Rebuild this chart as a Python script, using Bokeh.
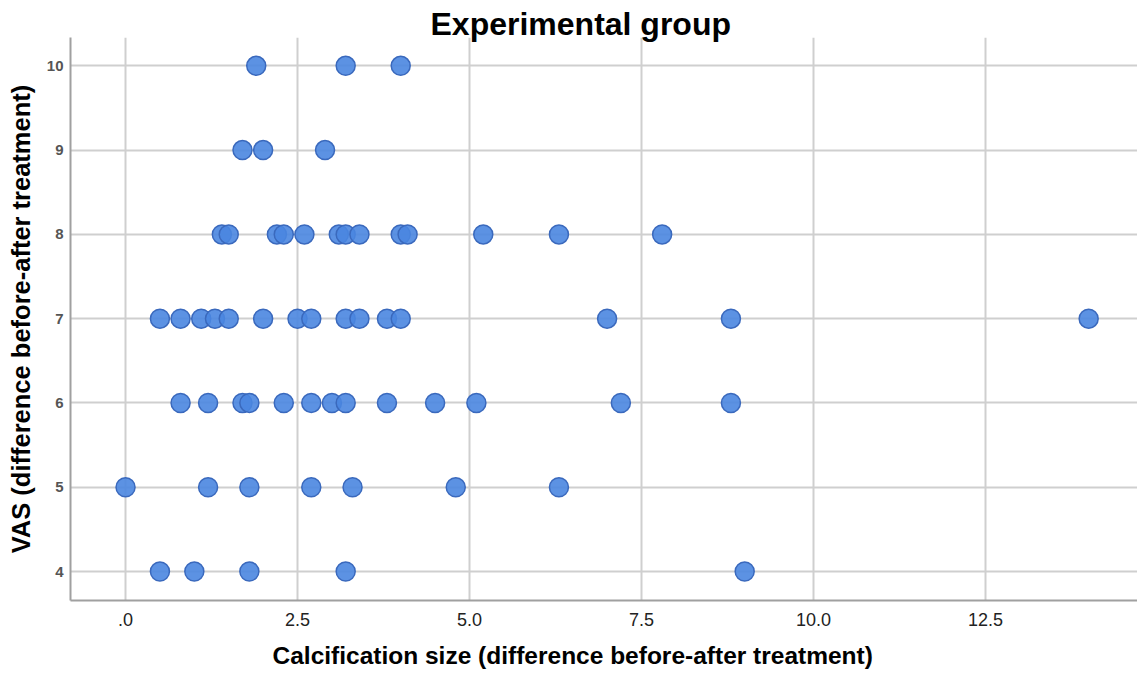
from bokeh.plotting import figure
from bokeh.models import FixedTicker, Title, ColumnDataSource
from bokeh.embed import file_html
from bokeh.resources import INLINE

# Calcification size change for each VAS change level
calc_vas_10 = [1.9, 3.2, 4.0]
calc_vas_9 = [1.7, 2.0, 2.9]
calc_vas_8 = [1.4, 1.5, 2.2, 2.3, 2.6, 3.1, 3.2, 3.4, 4.0, 4.1, 5.2, 6.3, 7.8]
calc_vas_7 = [0.5, 0.8, 1.1, 1.3, 1.5, 2.0, 2.5, 2.7, 3.2, 3.4, 3.8, 4.0, 7.0, 8.8, 14.0]
calc_vas_6 = [0.8, 1.2, 1.7, 1.8, 2.3, 2.7, 3.0, 3.2, 3.8, 4.5, 5.1, 7.2, 8.8]
calc_vas_5 = [0.0, 1.2, 1.8, 2.7, 3.3, 4.8, 6.3]
calc_vas_4 = [0.5, 1.0, 1.8, 3.2, 9.0]

vas_levels = [10, 9, 8, 7, 6, 5, 4]
calc_groups = [calc_vas_10, calc_vas_9, calc_vas_8, calc_vas_7,
               calc_vas_6, calc_vas_5, calc_vas_4]

x_ticks = [0, 2.5, 5.0, 7.5, 10.0, 12.5]
x_tick_labels = [".0", "2.5", "5.0", "7.5", "10.0", "12.5"]
y_ticks = [4, 5, 6, 7, 8, 9, 10]

calc = []
vas = []
for level, group in zip(vas_levels, calc_groups):
    calc.extend(group)
    vas.extend([level] * len(group))

source = ColumnDataSource(data=dict(calc=calc, vas=vas))

p = figure(width=1137, height=679, output_backend="svg", toolbar_location=None,
           x_range=(-0.8, 14.71), y_range=(3.656, 10.336),
           min_border_left=70, min_border_right=0,
           min_border_top=37, min_border_bottom=79)
p.outline_line_color = None
p.background_fill_color = "white"
p.border_fill_color = "white"

p.title = Title(text="Experimental group", align="left", offset=360,
                standoff=-9, text_font="Liberation Sans",
                text_font_style="bold", text_font_size="32px",
                text_color="black", text_line_height=1.0)

# grid
for g in (p.xgrid, p.ygrid):
    g.grid_line_color = "#cfcfcf"
    g.grid_line_width = 2

# axes
p.xaxis.ticker = FixedTicker(ticks=x_ticks)
p.xaxis.major_label_overrides = {t: l for t, l in zip(x_ticks, x_tick_labels)}
p.yaxis.ticker = FixedTicker(ticks=y_ticks)

for ax in (p.xaxis[0], p.yaxis[0]):
    ax.axis_line_color = "#a0a0a0"
    ax.axis_line_width = 2
    ax.major_tick_line_color = None
    ax.major_tick_out = 0
    ax.major_tick_in = 0
    ax.minor_tick_line_color = None
    ax.minor_tick_out = 0
    ax.major_label_text_font = "Liberation Sans"
    ax.axis_label_text_font = "Liberation Sans"
    ax.axis_label_text_font_style = "bold"
    ax.axis_label_text_color = "black"

p.xaxis.major_label_text_font_size = "18px"
p.xaxis.major_label_text_color = "#222222"
p.yaxis.major_label_text_font_size = "15px"
p.yaxis.major_label_text_font_style = "bold"
p.yaxis.major_label_text_color = "#555555"
p.xaxis.major_label_standoff = 12
p.yaxis.major_label_standoff = 7
p.yaxis.axis_label = "VAS (difference before-after treatment)"
p.yaxis.axis_label_text_font_size = "25.5px"
p.yaxis.axis_label_standoff = 9

# x-axis caption, placed as a title below the axis so it can be offset
p.add_layout(Title(text="Calcification size (difference before-after treatment)",
                   align="left", offset=202, standoff=22,
                   text_font="Liberation Sans", text_font_style="bold",
                   text_font_size="24.5px", text_color="black",
                   text_line_height=1.0), "below")

p.scatter("calc", "vas", source=source, size=19,
          fill_color="#4a86e0", fill_alpha=0.9,
          line_color="#3a69bd", line_width=1.5)

open("out.html", "w").write(file_html(p, INLINE))
